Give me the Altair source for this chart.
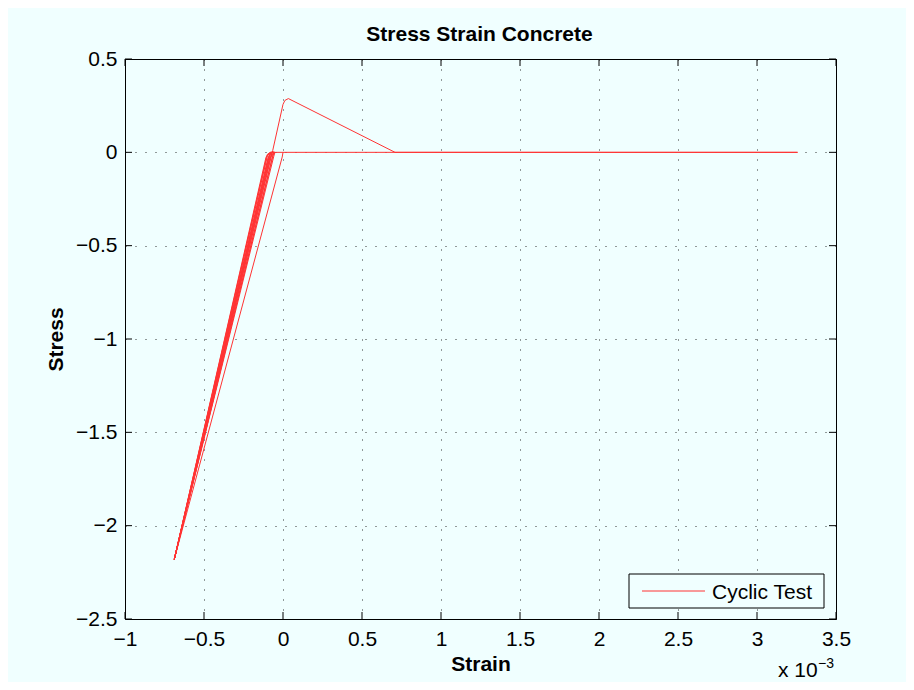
import altair as alt
import pandas as pd

# ---- data (strain in units of 1e-3) ----
STRAIN = [0.000, -0.005, -0.688, -0.065, 0.000, 0.012, 0.034, 0.709, 3.257,
          -0.045, -0.058, -0.064, -0.688, -0.082, -0.074, -0.060, -0.050,
          -0.060, -0.070, -0.078, -0.688, -0.090, -0.080, -0.066, -0.055,
          -0.068, -0.080, -0.088, -0.688, -0.100, -0.090, -0.074, -0.060,
          -0.075, -0.095, -0.688, -0.104, -0.094, -0.078, -0.060,
          -0.052, -0.058, -0.688, -0.066, -0.060, -0.050,
          -0.056, -0.084, -0.688, -0.108, -0.098, -0.080, -0.062]
STRESS = [0.000, -0.025, -2.180, 0.010, 0.257, 0.278, 0.288, 0.000, 0.000,
          0.000, -0.004, -0.020, -2.180, -0.020, -0.005, 0.000, 0.000,
          0.000, -0.005, -0.025, -2.180, -0.022, -0.006, 0.000, 0.000,
          0.000, -0.006, -0.026, -2.180, -0.024, -0.008, 0.000, 0.000,
          0.000, -0.030, -2.180, -0.026, -0.009, 0.000, 0.000,
          -0.003, -0.020, -2.180, -0.020, -0.004, 0.000,
          -0.002, -0.030, -2.180, -0.028, -0.010, 0.000, 0.000]
SERIES = "Cyclic Test"
X_TICKS = [-1, -0.5, 0, 0.5, 1, 1.5, 2, 2.5, 3, 3.5]
Y_TICKS = [-2.5, -2, -1.5, -1, -0.5, 0, 0.5]
TITLE = "Stress Strain Concrete"
XLABEL = "Strain"
YLABEL = "Stress"

RED = "#ff3333"
BG = "#f0ffff"
FONT = "Liberation Sans"
W, H = 711, 560

df = pd.DataFrame({"strain": STRAIN, "stress": STRESS,
                   "i": list(range(len(STRAIN))), "series": SERIES})
xt = pd.DataFrame({"strain": X_TICKS})
yt = pd.DataFrame({"stress": Y_TICKS})

xs = alt.Scale(domain=[-1, 3.5], nice=False, zero=False)
ys = alt.Scale(domain=[-2.5, 0.5], nice=False, zero=False)

X_AXIS = alt.Axis(
    values=X_TICKS, format="~g", grid=True, gridDash=[1, 9], gridColor="black",
    gridOpacity=0.8, domain=False, ticks=False, labelFontSize=21, labelFont=FONT,
    labelColor="black", labelPadding=9, labelFlush=False, labelOverlap=False,
    title=XLABEL, titleFont=FONT, titleFontSize=21, titleFontWeight="bold",
    titleColor="black", titleY=51, titleBaseline="alphabetic")
Y_AXIS = alt.Axis(
    values=Y_TICKS, format="~g", grid=True, gridDash=[1, 9], gridColor="black",
    gridOpacity=0.8, domain=False, ticks=False, labelFontSize=21, labelFont=FONT,
    labelColor="black", labelPadding=8, labelFlush=False, labelOverlap=False,
    labelBaseline="middle",
    title=YLABEL, titleFont=FONT, titleFontSize=21, titleFontWeight="bold",
    titleColor="black", titleX=-63, titleY=H / 2, titleAngle=270,
    titleAlign="center", titleBaseline="alphabetic")

line = alt.Chart(df).mark_line(strokeWidth=1, color=RED).encode(
    x=alt.X("strain:Q", scale=xs, axis=X_AXIS),
    y=alt.Y("stress:Q", scale=ys, axis=Y_AXIS),
    order="i:Q",
)

tick_b = alt.Chart(xt).mark_rule(color="black", strokeWidth=1).encode(
    x=alt.X("strain:Q", scale=xs, axis=X_AXIS), y=alt.value(H), y2=alt.value(H - 7))
tick_t = alt.Chart(xt).mark_rule(color="black", strokeWidth=1).encode(
    x=alt.X("strain:Q", scale=xs, axis=X_AXIS), y=alt.value(0), y2=alt.value(7))
tick_l = alt.Chart(yt).mark_rule(color="black", strokeWidth=1).encode(
    y=alt.Y("stress:Q", scale=ys, axis=Y_AXIS), x=alt.value(0), x2=alt.value(7))
tick_r = alt.Chart(yt).mark_rule(color="black", strokeWidth=1).encode(
    y=alt.Y("stress:Q", scale=ys, axis=Y_AXIS), x=alt.value(W), x2=alt.value(W - 7))

# legend (drawn by hand, MATLAB style)
leg_df = pd.DataFrame({"t": [SERIES]})
leg_box = alt.Chart(leg_df).mark_rect(fill=BG, stroke="black", strokeWidth=1).encode(
    x=alt.value(504), x2=alt.value(699), y=alt.value(515), y2=alt.value(549))
leg_line = alt.Chart(leg_df).mark_rule(color=RED, strokeWidth=1).encode(
    x=alt.value(517), x2=alt.value(580), y=alt.value(532))
leg_text = alt.Chart(leg_df).mark_text(
    font=FONT, fontSize=21, align="left", baseline="alphabetic", color="black"
).encode(text="t:N", x=alt.value(587), y=alt.value(540))

title_mark = alt.Chart(pd.DataFrame({"t": [TITLE]})).mark_text(
    font=FONT, fontSize=21, fontWeight="bold", align="center",
    baseline="alphabetic", color="black"
).encode(text="t:N", x=alt.value(W / 2 - 1), y=alt.value(-18))
exp_base = alt.Chart(pd.DataFrame({"t": ["x 10"]})).mark_text(
    font=FONT, fontSize=21, align="left", baseline="alphabetic", color="black"
).encode(text="t:N", x=alt.value(653), y=alt.value(618))
exp_sup = alt.Chart(pd.DataFrame({"t": ["\u22123"]})).mark_text(
    font=FONT, fontSize=14, align="left", baseline="alphabetic", color="black"
).encode(text="t:N", x=alt.value(693), y=alt.value(609))

chart = alt.layer(line, tick_b, tick_t, tick_l, tick_r,
                  leg_box, leg_line, leg_text,
                  title_mark, exp_base, exp_sup).properties(
    width=W, height=H,
    padding={"left": 117, "top": 51, "right": 70, "bottom": 63},
    autosize=alt.AutoSizeParams(type="none"),
    background=BG,
).configure_view(stroke="black", strokeWidth=1, fill=BG)

chart.save("out.html", embed_options={"renderer": "svg", "actions": False})
